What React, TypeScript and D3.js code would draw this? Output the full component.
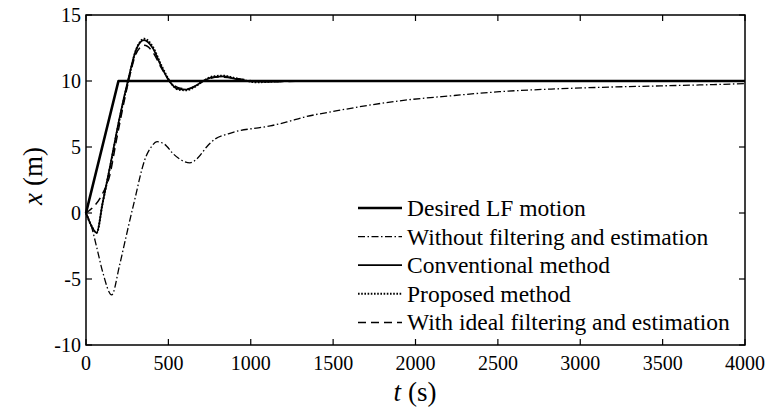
import React from "react";
import * as d3 from "d3";

const desiredT = [0, 197, 4000];
const desiredX = [0, 10, 10];

const convT = [0, 30, 65, 100, 150, 200, 254, 305, 352, 405, 457, 508, 560, 610, 660, 712, 772, 833, 894, 965, 1036, 1118, 1220, 1420, 4000];
const convX = [0, -0.9, -1.5, 0.7, 3.8, 7.0, 10.0, 12.4, 13.1, 12.5, 11.1, 9.95, 9.4, 9.35, 9.6, 10.0, 10.3, 10.35, 10.2, 10.0, 9.95, 9.95, 10.0, 10.0, 10.0];

const propT = [0, 30, 65, 100, 150, 200, 254, 305, 355, 405, 457, 508, 560, 610, 660, 712, 772, 833, 894, 965, 1036, 1118, 1220, 1420, 4000];
const propX = [0, -0.9, -1.5, 0.7, 3.7, 6.9, 9.9, 12.4, 13.2, 12.6, 11.2, 10.0, 9.35, 9.3, 9.55, 10.0, 10.35, 10.4, 10.25, 10.05, 9.9, 9.95, 10.0, 10.0, 10.0];

const idealT = [0, 40, 98, 145, 183, 224, 264, 305, 355, 405, 457, 508, 560, 610, 660, 712, 812, 914, 1016, 1118, 1420, 4000];
const idealX = [0, 0.4, 1.4, 2.9, 5.4, 8.0, 10.3, 12.1, 12.7, 12.2, 11.0, 10.0, 9.5, 9.4, 9.6, 10.0, 10.3, 10.2, 10.0, 9.95, 10.0, 10.0];

const noFiltT = [0, 30, 65, 102, 156, 203, 234, 267, 305, 327, 356, 396, 431, 478, 528, 580, 631, 681, 732, 783, 864, 935, 1016, 1118, 1220, 1320, 1525, 1905, 2235, 2510, 2845, 3120, 3450, 3725, 4000];
const noFiltX = [0, -0.9, -2.6, -4.5, -6.2, -4.0, -2.3, -0.5, 1.5, 2.7, 4.0, 5.0, 5.4, 5.2, 4.5, 4.0, 3.8, 4.2, 5.0, 5.6, 6.0, 6.25, 6.4, 6.6, 6.9, 7.25, 7.75, 8.5, 8.9, 9.19, 9.4, 9.52, 9.62, 9.7, 9.8];

const xTicks = [0, 500, 1000, 1500, 2000, 2500, 3000, 3500, 4000];
const yTicks = [-10, -5, 0, 5, 10, 15];

const legendLabels = [
  "Desired LF motion",
  "Without filtering and estimation",
  "Conventional method",
  "Proposed method",
  "With ideal filtering and estimation",
];

const W = 778, H = 418;
const L = 86, R = 745, T = 15, B = 345;

export default function App() {
  const x = d3.scaleLinear().domain([0, 4000]).range([L, R]);
  const y = d3.scaleLinear().domain([-10, 15]).range([B, T]);
  const mk = (ts: number[], xs: number[], curve: any) =>
    d3.line<number>().x((_, i) => x(ts[i])).y((d) => y(d)).curve(curve)(xs) || "";

  const series = [
    { d: mk(desiredT, desiredX, d3.curveLinear), w: 2.6, dash: "none" },
    { d: mk(noFiltT, noFiltX, d3.curveMonotoneX), w: 1.3, dash: "7,2.5,1.5,2.5" },
    { d: mk(convT, convX, d3.curveMonotoneX), w: 1.7, dash: "none" },
    { d: mk(propT, propX, d3.curveMonotoneX), w: 2.0, dash: "1.6,1.6" },
    { d: mk(idealT, idealX, d3.curveMonotoneX), w: 1.5, dash: "8,5" },
  ];

  const font = "'Liberation Serif', 'Times New Roman', serif";
  const legX1 = 358, legX2 = 402, legTx = 407, legY0 = 208, legDy = 28.6;

  return (
    <svg width={W} height={H} style={{ position: "absolute", left: 0, top: 0, background: "#fff" }} fontFamily={font}>
      <rect x={0} y={0} width={W} height={H} fill="#fff" />
      {series.map((s, i) => (
        <path key={i} d={s.d} fill="none" stroke="#000" strokeWidth={s.w} strokeDasharray={s.dash} strokeLinejoin="round" />
      ))}
      <rect x={L} y={T} width={R - L} height={B - T} fill="none" stroke="#000" strokeWidth={1.5} />
      {xTicks.map((t) => (
        <g key={"x" + t}>
          <line x1={x(t)} x2={x(t)} y1={B} y2={B - 6} stroke="#000" strokeWidth={1.2} />
          <line x1={x(t)} x2={x(t)} y1={T} y2={T + 6} stroke="#000" strokeWidth={1.2} />
          <text x={x(t)} y={370} fontSize={20} textAnchor="middle">{t}</text>
        </g>
      ))}
      {yTicks.map((v) => (
        <g key={"y" + v}>
          <line x1={L} x2={L + 6} y1={y(v)} y2={y(v)} stroke="#000" strokeWidth={1.2} />
          <line x1={R} x2={R - 6} y1={y(v)} y2={y(v)} stroke="#000" strokeWidth={1.2} />
          <text x={81} y={y(v) + 7} fontSize={20} textAnchor="end">{v}</text>
        </g>
      ))}
      <text x={415} y={401} fontSize={27} textAnchor="middle">
        <tspan fontStyle="italic">t</tspan>
        <tspan dx={7}>(s)</tspan>
      </text>
      <text transform={`translate(42,176) rotate(-90)`} fontSize={27} textAnchor="middle">
        <tspan fontStyle="italic">x</tspan>
        <tspan dx={7}>(m)</tspan>
      </text>
      {legendLabels.map((lab, i) => {
        const ly = legY0 + i * legDy;
        return (
          <g key={lab}>
            <line x1={legX1} x2={legX2} y1={ly} y2={ly} stroke="#000" strokeWidth={series[i].w} strokeDasharray={series[i].dash} />
            <text x={legTx} y={ly + 8} fontSize={23.5}>{lab}</text>
          </g>
        );
      })}
    </svg>
  );
}
